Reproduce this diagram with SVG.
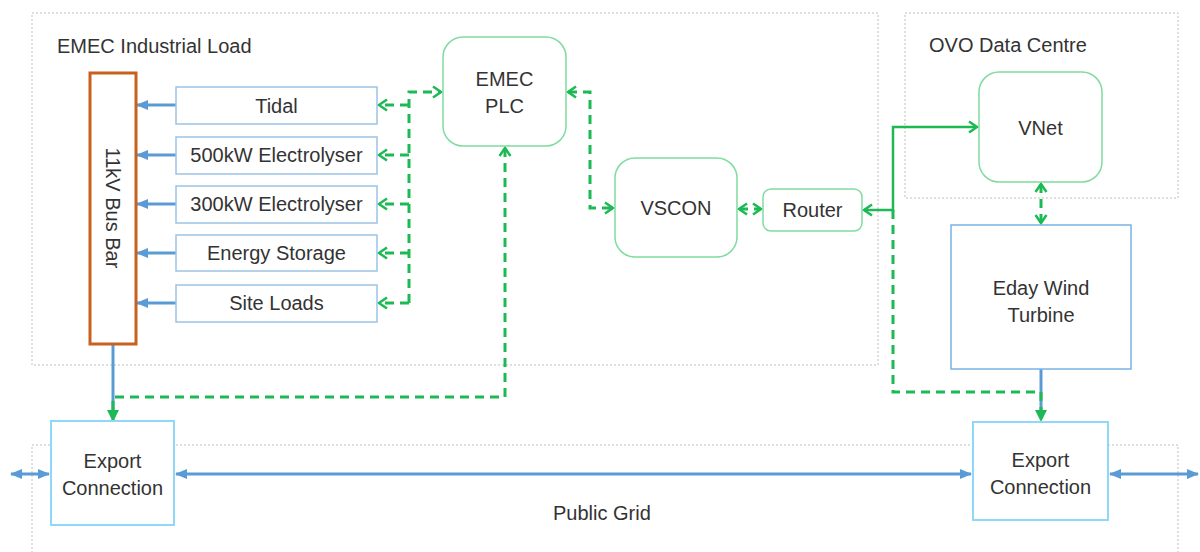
<svg xmlns="http://www.w3.org/2000/svg" width="1200" height="552" viewBox="0 0 1200 552">
<style>
.txt{font-family:"Liberation Sans",Arial,sans-serif;font-size:20px;fill:#333333}
.mid{text-anchor:middle}
.cont{fill:none;stroke:#bfbfbf;stroke-width:1;stroke-dasharray:2 2}
.load{fill:#ffffff;stroke:#9dc3e6;stroke-width:1.5}
.exp{fill:#ffffff;stroke:#8fd8f8;stroke-width:2}
.gbox{fill:#ffffff;stroke:#7fdc9f;stroke-width:1.5}
.blue{fill:none;stroke:#5b9bd5;stroke-width:3}
.gd{fill:none;stroke:#1db954;stroke-width:3;stroke-dasharray:9 6}
.gs{fill:none;stroke:#1db954;stroke-width:2.5}
</style>
<defs>
<marker id="bArr" markerUnits="userSpaceOnUse" markerWidth="12" markerHeight="10" refX="11" refY="5" orient="auto-start-reverse" viewBox="0 0 12 10">
<path d="M0,0 L12,5 L0,10 Z" fill="#5b9bd5"/>
</marker>
<marker id="gArr" markerUnits="userSpaceOnUse" markerWidth="12" markerHeight="12" refX="11" refY="6" orient="auto-start-reverse" viewBox="0 0 12 12">
<path d="M0,0 L12,6 L0,12 Z" fill="#1db954"/>
</marker>
<marker id="gChev" markerUnits="userSpaceOnUse" markerWidth="14" markerHeight="14" refX="11" refY="7" orient="auto-start-reverse" viewBox="0 0 14 14">
<path d="M3,1.5 L11,7 L3,12.5" fill="none" stroke="#1db954" stroke-width="2.5" stroke-dasharray="none"/>
</marker>
</defs>
<rect width="1200" height="552" fill="#ffffff"/>

<g id="containers">
<rect class="cont" x="32" y="13" width="846" height="352"/>
<text class="txt" x="57" y="53">EMEC Industrial Load</text>
<rect class="cont" x="905" y="13" width="273" height="185"/>
<text class="txt" x="929" y="52">OVO Data Centre</text>
<rect class="cont" x="32" y="445" width="1146" height="130"/>
<text class="txt" x="553" y="520">Public Grid</text>
</g>

<g id="connectors">
<path class="blue" d="M176,105 L137,105" marker-end="url(#bArr)"/>
<path class="blue" d="M176,155 L137,155" marker-end="url(#bArr)"/>
<path class="blue" d="M176,204 L137,204" marker-end="url(#bArr)"/>
<path class="blue" d="M176,253 L137,253" marker-end="url(#bArr)"/>
<path class="blue" d="M176,303 L137,303" marker-end="url(#bArr)"/>
<path class="blue" d="M113,345 L113,410"/>
<path class="blue" d="M1041,369 L1041,410"/>
<path class="blue" d="M176,474 L971,474" marker-start="url(#bArr)" marker-end="url(#bArr)"/>
<path class="blue" d="M11,474 L49,474" marker-start="url(#bArr)" marker-end="url(#bArr)"/>
<path class="blue" d="M1110,474 L1198,474" marker-start="url(#bArr)" marker-end="url(#bArr)"/>

<path class="gd" d="M409,303 L409,92 L441,92" marker-end="url(#gChev)"/>
<path class="gd" d="M409,105 L379,105" marker-end="url(#gChev)"/>
<path class="gd" d="M409,155 L379,155" marker-end="url(#gChev)"/>
<path class="gd" d="M409,204 L379,204" marker-end="url(#gChev)"/>
<path class="gd" d="M409,253 L379,253" marker-end="url(#gChev)"/>
<path class="gd" d="M409,303 L379,303" marker-end="url(#gChev)"/>
<path class="gd" d="M568,92 L590,92 L590,208 L613,208" marker-start="url(#gChev)" marker-end="url(#gChev)"/>
<path class="gd" d="M739,209 L761,209" marker-start="url(#gChev)" marker-end="url(#gChev)"/>
<path class="gs" d="M864,210 L893,210 L893,127 L977,127" marker-start="url(#gChev)" marker-end="url(#gChev)"/>
<path class="gd" d="M893,210 L893,392 L1041,392 L1041,421" marker-end="url(#gArr)"/>
<path class="gd" d="M505,148 L505,397 L113,397 L113,421" marker-start="url(#gChev)" marker-end="url(#gArr)"/>
<path class="gd" d="M1041,184 L1041,223" marker-start="url(#gChev)" marker-end="url(#gChev)"/>
</g>

<g id="busbar">
<rect x="90" y="73" width="46" height="271" fill="#ffffff" stroke="#c8601e" stroke-width="3"/>
<text class="txt mid" transform="translate(113,208) rotate(90)" x="0" y="7">11kV Bus Bar</text>
</g>

<g id="tidal">
<rect class="load" x="176" y="87" width="201" height="37"/>
<text class="txt mid" x="276.5" y="113">Tidal</text>
</g>
<g id="elec500">
<rect class="load" x="176" y="137" width="201" height="37"/>
<text class="txt mid" x="276.5" y="162">500kW Electrolyser</text>
</g>
<g id="elec300">
<rect class="load" x="176" y="186" width="201" height="37"/>
<text class="txt mid" x="276.5" y="211">300kW Electrolyser</text>
</g>
<g id="storage">
<rect class="load" x="176" y="235" width="201" height="36"/>
<text class="txt mid" x="276.5" y="260">Energy Storage</text>
</g>
<g id="siteloads">
<rect class="load" x="176" y="285" width="201" height="37"/>
<text class="txt mid" x="276.5" y="310">Site Loads</text>
</g>

<g id="plc">
<rect class="gbox" x="443" y="37" width="123" height="109" rx="20"/>
<text class="txt mid" x="504.5" y="86">EMEC</text>
<text class="txt mid" x="504.5" y="113">PLC</text>
</g>
<g id="vscon">
<rect class="gbox" x="615" y="158" width="122" height="99" rx="20"/>
<text class="txt mid" x="676" y="215">VSCON</text>
</g>
<g id="router">
<rect class="gbox" x="763" y="189" width="99" height="42" rx="8"/>
<text class="txt mid" x="812.5" y="217">Router</text>
</g>
<g id="vnet">
<rect class="gbox" x="979" y="72" width="123" height="110" rx="20"/>
<text class="txt mid" x="1040.5" y="135">VNet</text>
</g>
<g id="eday">
<rect x="951" y="225" width="180" height="144" fill="#ffffff" stroke="#7ab2e3" stroke-width="1.5"/>
<text class="txt mid" x="1041" y="295">Eday Wind</text>
<text class="txt mid" x="1041" y="322">Turbine</text>
</g>
<g id="export-left">
<rect class="exp" x="51" y="421" width="123" height="104"/>
<text class="txt mid" x="112.5" y="468">Export</text>
<text class="txt mid" x="112.5" y="495">Connection</text>
</g>
<g id="export-right">
<rect class="exp" x="973" y="422" width="135" height="98"/>
<text class="txt mid" x="1040.5" y="467">Export</text>
<text class="txt mid" x="1040.5" y="494">Connection</text>
</g>
</svg>
